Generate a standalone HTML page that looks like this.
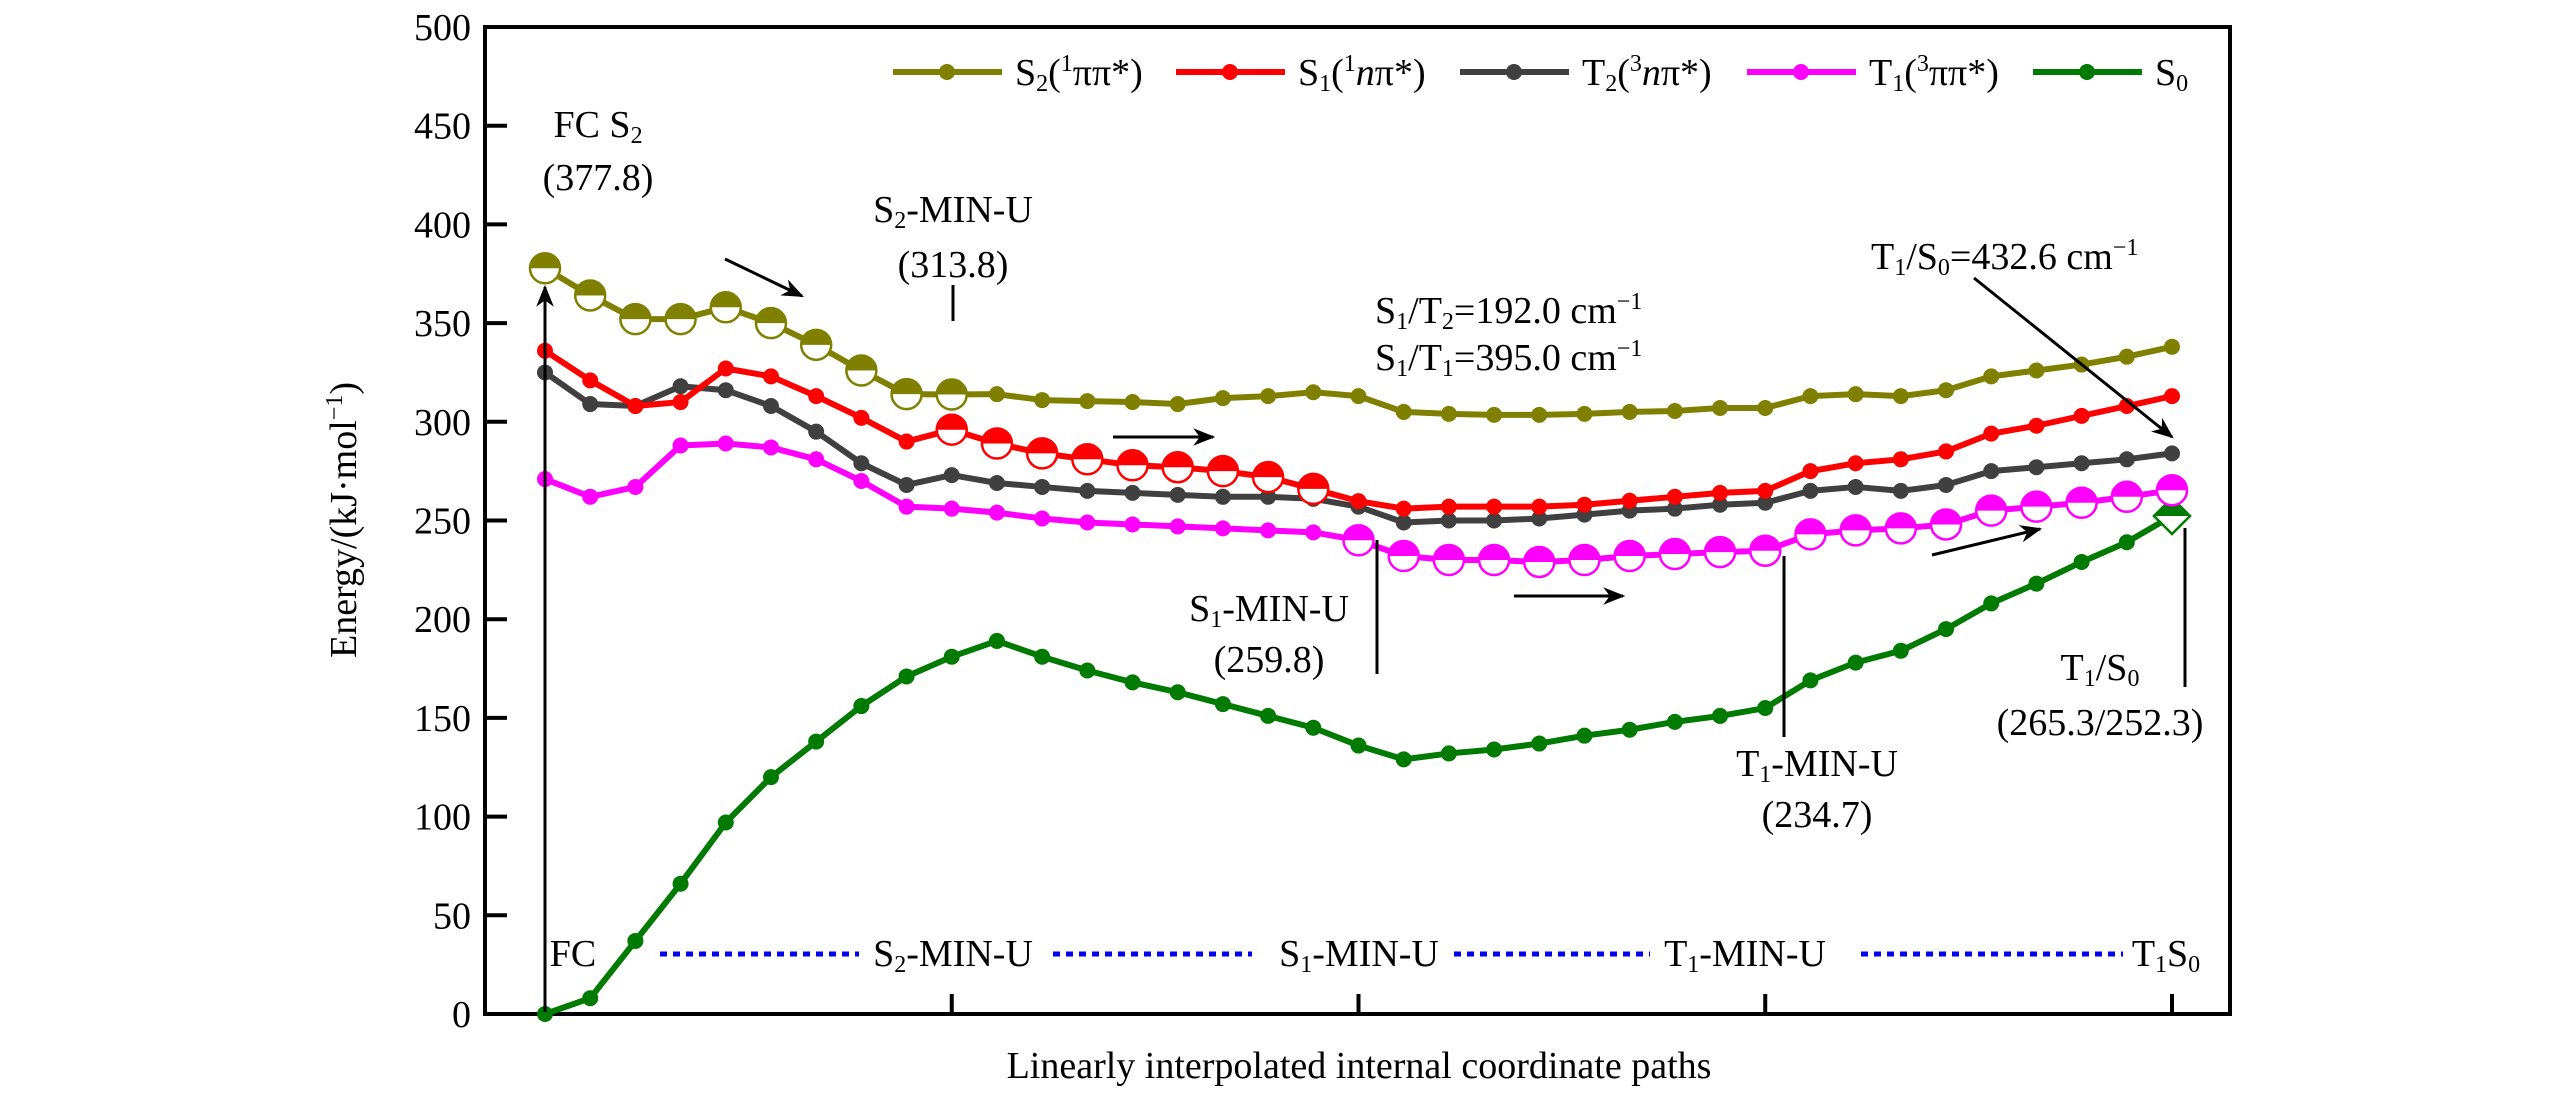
<!DOCTYPE html>
<html><head><meta charset="utf-8"><style>
html,body{margin:0;padding:0;background:#fff;}
svg, svg text{font-family:"Liberation Serif","Times New Roman","DejaVu Serif",serif;}
</style></head><body>
<svg id="chart" width="2567" height="1102" viewBox="0 0 2567 1102" xmlns="http://www.w3.org/2000/svg" font-family="Liberation Serif, Times New Roman, DejaVu Serif, serif">
<defs>
<marker id="ah2" viewBox="0 0 10 10" refX="9" refY="5" markerWidth="22" markerHeight="22" orient="auto" markerUnits="userSpaceOnUse"><path d="M0,1 L10,5 L0,9 L3,5 z" fill="#000"/></marker>
</defs>
<g id="frame"></g>
<g id="yaxis"></g>
<g id="series"></g>
<g id="annot" font-size="38" fill="#000">
  <text x="598" y="137" text-anchor="middle">FC S<tspan font-size="24" dy="6">2</tspan></text>
  <text x="598" y="190" text-anchor="middle">(377.8)</text>
  <line x1="545" y1="1012" x2="545" y2="287" stroke="#000" stroke-width="3" marker-end="url(#ah2)"/>
  <line x1="725" y1="259" x2="802" y2="296" stroke="#000" stroke-width="3" marker-end="url(#ah2)"/>
  <text x="953" y="222" text-anchor="middle">S<tspan font-size="24" dy="6">2</tspan><tspan dy="-6">-MIN-U</tspan></text>
  <text x="953" y="277" text-anchor="middle">(313.8)</text>
  <line x1="953" y1="285" x2="953" y2="321" stroke="#000" stroke-width="3"/>
  <line x1="1113" y1="437" x2="1213" y2="437" stroke="#000" stroke-width="3" marker-end="url(#ah2)"/>
  <text x="1375" y="323">S<tspan font-size="24" dy="6">1</tspan><tspan dy="-6">/T</tspan><tspan font-size="24" dy="6">2</tspan><tspan dy="-6">=192.0 cm</tspan><tspan font-size="24" dy="-14">−1</tspan></text>
  <text x="1375" y="370">S<tspan font-size="24" dy="6">1</tspan><tspan dy="-6">/T</tspan><tspan font-size="24" dy="6">1</tspan><tspan dy="-6">=395.0 cm</tspan><tspan font-size="24" dy="-14">−1</tspan></text>
  <text x="1871" y="269">T<tspan font-size="24" dy="6">1</tspan><tspan dy="-6">/S</tspan><tspan font-size="24" dy="6">0</tspan><tspan dy="-6">=432.6 cm</tspan><tspan font-size="24" dy="-14">−1</tspan></text>
  <line x1="1974" y1="278" x2="2172" y2="437" stroke="#000" stroke-width="3" marker-end="url(#ah2)"/>
  <text x="1269" y="621" text-anchor="middle">S<tspan font-size="24" dy="6">1</tspan><tspan dy="-6">-MIN-U</tspan></text>
  <text x="1269" y="672" text-anchor="middle">(259.8)</text>
  <line x1="1377" y1="540" x2="1377" y2="674" stroke="#000" stroke-width="3"/>
  <line x1="1514" y1="596" x2="1623" y2="596" stroke="#000" stroke-width="3" marker-end="url(#ah2)"/>
  <text x="1817" y="776" text-anchor="middle">T<tspan font-size="24" dy="6">1</tspan><tspan dy="-6">-MIN-U</tspan></text>
  <text x="1817" y="827" text-anchor="middle">(234.7)</text>
  <line x1="1784" y1="556" x2="1784" y2="737" stroke="#000" stroke-width="3"/>
  <line x1="1932" y1="555" x2="2040" y2="529" stroke="#000" stroke-width="3" marker-end="url(#ah2)"/>
  <text x="2100" y="680" text-anchor="middle">T<tspan font-size="24" dy="6">1</tspan><tspan dy="-6">/S</tspan><tspan font-size="24" dy="6">0</tspan></text>
  <text x="2100" y="735" text-anchor="middle">(265.3/252.3)</text>
  <line x1="2185" y1="528" x2="2185" y2="687" stroke="#000" stroke-width="3"/>
  <text x="573" y="966" text-anchor="middle">FC</text>
  <line x1="660" y1="954" x2="859" y2="954" stroke="#0000ee" stroke-width="5" stroke-dasharray="7,6"/>
  <text x="953" y="966" text-anchor="middle">S<tspan font-size="24" dy="6">2</tspan><tspan dy="-6">-MIN-U</tspan></text>
  <line x1="1053" y1="954" x2="1252" y2="954" stroke="#0000ee" stroke-width="5" stroke-dasharray="7,6"/>
  <text x="1359" y="966" text-anchor="middle">S<tspan font-size="24" dy="6">1</tspan><tspan dy="-6">-MIN-U</tspan></text>
  <line x1="1454" y1="954" x2="1650" y2="954" stroke="#0000ee" stroke-width="5" stroke-dasharray="7,6"/>
  <text x="1745" y="966" text-anchor="middle">T<tspan font-size="24" dy="6">1</tspan><tspan dy="-6">-MIN-U</tspan></text>
  <line x1="1861" y1="954" x2="2123" y2="954" stroke="#0000ee" stroke-width="5" stroke-dasharray="7,6"/>
  <text x="2166" y="966" text-anchor="middle">T<tspan font-size="24" dy="6">1</tspan><tspan dy="-6">S</tspan><tspan font-size="24" dy="6">0</tspan></text>
  <text x="1359" y="1078" text-anchor="middle">Linearly interpolated internal coordinate paths</text>
  <text transform="translate(356,520) rotate(-90)" text-anchor="middle">Energy/(kJ·mol<tspan font-size="24" dy="-14">−1</tspan><tspan dy="14">)</tspan></text>
</g>
<g id="legend" font-size="38"></g>
</svg>
<script>
const yTicks = [0,50,100,150,200,250,300,350,400,450,500];
const s2 = [377.8,364,352,352,358,350,339,326,314,313.8,314,311,310.5,310,309,312,313,315,313,305,304,303.5,303.5,304,305,305.5,307,307,313,314,313,316,323,326,329,333,338];
const s1 = [336,321,308,310,327,323,313,302,290,296,289,284,281,278,277,275,272,266,259.8,256,257,257,257,258,260,262,264,265,275,279,281,285,294,298,303,308,313];
const t2 = [325,309,308,318,316,308,295,279,268,273,269,267,265,264,263,262,262,261,257,249,250,250,251,253,255,256,258,259,265,267,265,268,275,277,279,281,284];
const t1 = [271,262,267,288,289,287,281,270,257,256,254,251,249,248,247,246,245,244,240,232,230,230,229,230,232,233,234,234.7,243,245,246,248,255,257,259,262,265.3];
const s0 = [0,8,37,66,97,120,138,156,171,181,189,181,174,168,163,157,151,145,136,129,132,134,137,141,144,148,151,155,169,178,184,195,208,218,229,239,252.3];
const seriesNames = ["S2","S1","T2","T1","S0"];
const seriesColors = ["#808000","#ff0000","#404040","#ff00ff","#007a00"];
const halfRanges = [[0,9],[9,17],[-1,-1],[18,36],[-1,-1]];
const NS="http://www.w3.org/2000/svg";
const X0=485,X1=2230,Y0=1014,Y1=27;
const xFirst=545, xStep=(2172-545)/36;
function xs(i){return xFirst+i*xStep;}
function ys(v){return Y0-(v/500)*(Y0-Y1);}
function el(t,a,p){const e=document.createElementNS(NS,t);for(const k in a)e.setAttribute(k,a[k]);p.appendChild(e);return e;}
const frame=document.getElementById('frame');
const fr=el('rect',{x:X0,y:Y1,width:X1-X0,height:Y0-Y1,fill:'none',stroke:'#000','stroke-width':4},frame);


const ya=document.getElementById('yaxis');
yTicks.forEach(v=>{
  const t=el('line',{x1:X0,x2:X0+22,y1:ys(v),y2:ys(v),stroke:'#000','stroke-width':4},ya);
  
  
  const l=el('text',{x:X0-14,y:ys(v)+13,'text-anchor':'end','font-size':38},ya);
  
  
  l.textContent=v;
});
[9,18,27,36].forEach(i=>{
  const t=el('line',{x1:xs(i),x2:xs(i),y1:Y0,y2:Y0-20,stroke:'#000','stroke-width':4},ya);
  
  
});
const sg=document.getElementById('series');
const data=[s2,s1,t2,t1,s0];
const order=[4,3,2,1,0];
order.forEach(si=>{
  const d=data[si],c=seriesColors[si];
  const g=el('g',{},sg);
  
  
  const pl=el('polyline',{points:d.map((v,i)=>xs(i)+','+ys(v)).join(' '),fill:'none',stroke:c,'stroke-width':6,'stroke-linejoin':'round'},g);
  
  
  d.forEach((v,i)=>{
    const cx=xs(i),cy=ys(v);
    const hr=halfRanges[si];
    if(si===4 && i===36){
      const r=18;
      const mg=el('g',{},g);
      
      
      el('path',{d:`M${cx-r},${cy} L${cx},${cy-r} L${cx+r},${cy} L${cx},${cy+r} Z`,fill:'#fff',stroke:c,'stroke-width':2.5},mg);
      el('path',{d:`M${cx-r},${cy} L${cx},${cy-r} L${cx+r},${cy} Z`,fill:c},mg);
    } else if(i>=hr[0]&&i<=hr[1]){
      const r=15;
      const mg=el('g',{},g);
      
      
      el('circle',{cx:cx,cy:cy,r:r,fill:'#fff',stroke:c,'stroke-width':2.5},mg);
      el('path',{d:`M${cx-r},${cy} A${r},${r} 0 0 1 ${cx+r},${cy} Z`,fill:c},mg);
    } else {
      const p=el('circle',{cx:cx,cy:cy,r:8,fill:c},g);
      
      
    }
  });
});
const lg=document.getElementById('legend');
const legX=[893,1176,1460,1747,2033];
const legHTML=['S<tspan font-size="24" dy="6">2</tspan><tspan dy="-6">(</tspan><tspan font-size="24" dy="-14">1</tspan><tspan dy="14">ππ*)</tspan>',
 'S<tspan font-size="24" dy="6">1</tspan><tspan dy="-6">(</tspan><tspan font-size="24" dy="-14">1</tspan><tspan dy="14" font-style="italic">n</tspan><tspan>π*)</tspan>',
 'T<tspan font-size="24" dy="6">2</tspan><tspan dy="-6">(</tspan><tspan font-size="24" dy="-14">3</tspan><tspan dy="14" font-style="italic">n</tspan><tspan>π*)</tspan>',
 'T<tspan font-size="24" dy="6">1</tspan><tspan dy="-6">(</tspan><tspan font-size="24" dy="-14">3</tspan><tspan dy="14">ππ*)</tspan>',
 'S<tspan font-size="24" dy="6">0</tspan>'];
seriesNames.forEach((n,i)=>{
  const g=el('g',{},lg);
  
  
  el('line',{x1:legX[i],x2:legX[i]+109,y1:72,y2:72,stroke:seriesColors[i],'stroke-width':6},g);
  el('circle',{cx:legX[i]+54,cy:72,r:8,fill:seriesColors[i]},g);
  const t=el('text',{x:legX[i]+122,y:85},g);
  t.innerHTML=legHTML[i];
});
</script>
</body></html>
